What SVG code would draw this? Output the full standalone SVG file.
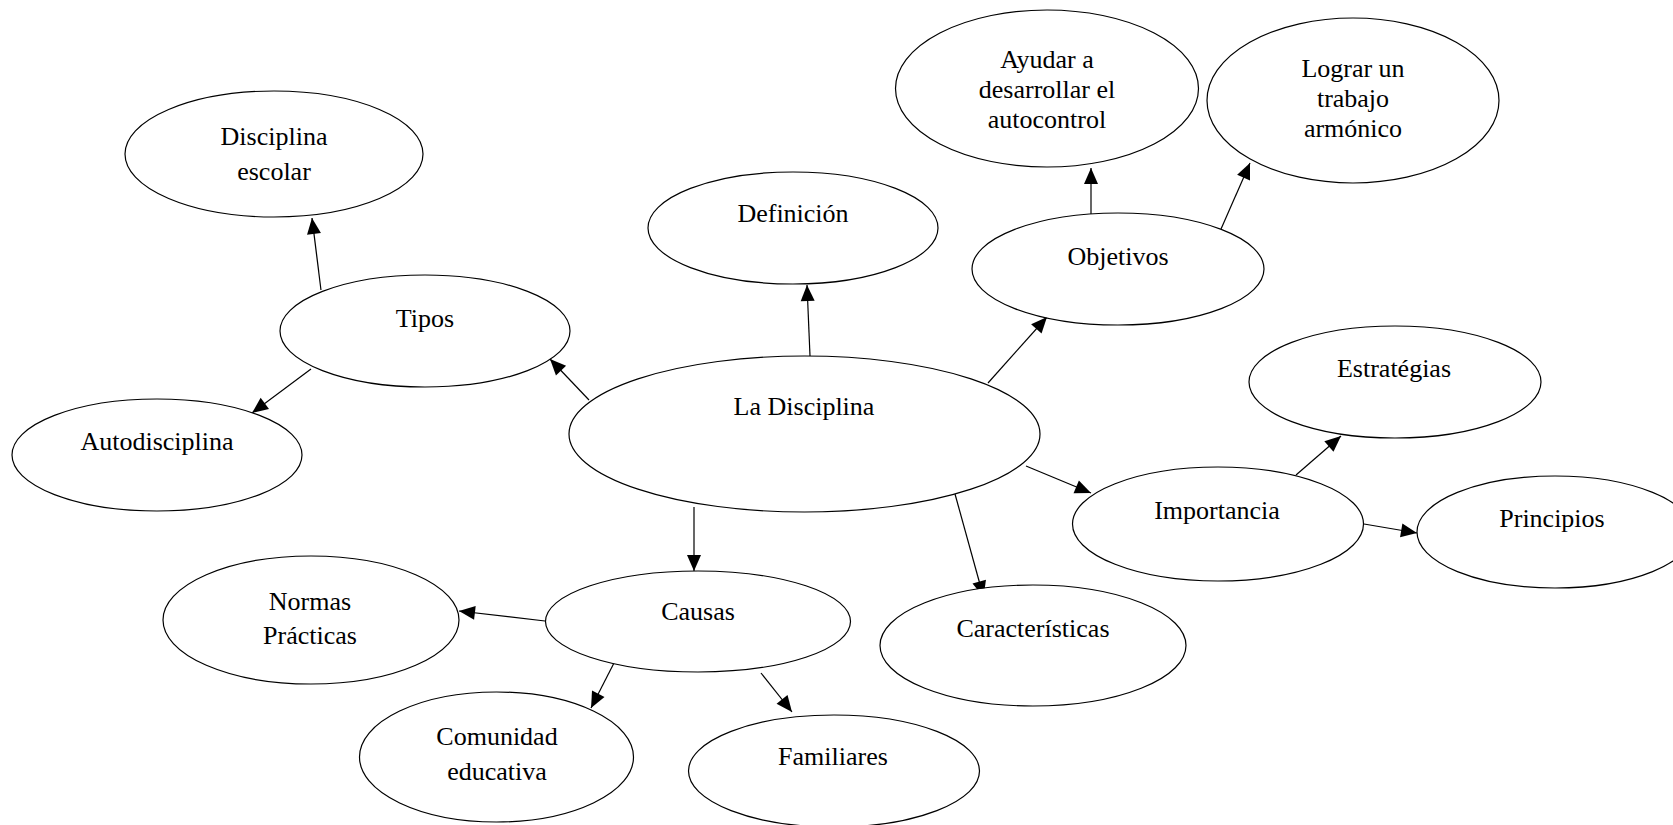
<svg xmlns="http://www.w3.org/2000/svg" width="1673" height="825" viewBox="0 0 1673 825">
<style>
.n ellipse{fill:#fff;stroke:#000;stroke-width:1.2}
.n text{font-family:"Liberation Serif","Times New Roman",serif;font-size:26px;fill:#000;text-anchor:middle}
.e line{stroke:#000;stroke-width:1.2;marker-end:url(#ah)}
</style>
<defs>
<marker id="ah" markerUnits="userSpaceOnUse" markerWidth="17" markerHeight="15" refX="16" refY="7" orient="auto" overflow="visible">
<path d="M0,0 L16,7 L0,14 Z" fill="#000"/>
</marker>
</defs>
<rect width="1673" height="825" fill="#fff"/>
<g id="edges" class="e">
<line x1="589" y1="400" x2="550" y2="359"/>
<line x1="321" y1="290" x2="312" y2="218"/>
<line x1="311" y1="369" x2="252" y2="413"/>
<line x1="810" y1="356" x2="807" y2="285"/>
<line x1="988" y1="383" x2="1047" y2="317"/>
<line x1="1091" y1="217" x2="1091" y2="168"/>
<line x1="1221" y1="229" x2="1250" y2="163"/>
<line x1="1026" y1="466" x2="1091" y2="493"/>
<line x1="1296" y1="475" x2="1341" y2="436"/>
<line x1="1364" y1="524" x2="1417" y2="533"/>
<line x1="694" y1="507" x2="694" y2="571"/>
<line x1="955" y1="494" x2="983.5" y2="597"/>
<line x1="545" y1="621" x2="459" y2="611"/>
<line x1="614" y1="663" x2="591" y2="708"/>
<line x1="761" y1="673" x2="792" y2="712"/>
</g>
<g id="n-disciplina-escolar" class="n"><ellipse cx="274" cy="154" rx="149" ry="63"/><text x="274" y="145">Disciplina</text><text x="274" y="180">escolar</text></g>
<g id="n-tipos" class="n"><ellipse cx="425" cy="331" rx="145" ry="56"/><text x="425" y="327">Tipos</text></g>
<g id="n-autodisciplina" class="n"><ellipse cx="157" cy="455" rx="145" ry="56"/><text x="157" y="450">Autodisciplina</text></g>
<g id="n-definicion" class="n"><ellipse cx="793" cy="228" rx="145" ry="56"/><text x="793" y="222">Definición</text></g>
<g id="n-la-disciplina" class="n"><ellipse cx="804.5" cy="434" rx="235.5" ry="78"/><text x="804" y="415">La Disciplina</text></g>
<g id="n-objetivos" class="n"><ellipse cx="1118" cy="269" rx="146" ry="56"/><text x="1118" y="265">Objetivos</text></g>
<g id="n-ayudar" class="n"><ellipse cx="1047" cy="88.5" rx="151.5" ry="78.5"/><text x="1047" y="68">Ayudar a</text><text x="1047" y="98">desarrollar el</text><text x="1047" y="128">autocontrol</text></g>
<g id="n-lograr" class="n"><ellipse cx="1353" cy="100.5" rx="146" ry="82.5"/><text x="1353" y="77">Lograr un</text><text x="1353" y="107">trabajo</text><text x="1353" y="137">armónico</text></g>
<g id="n-estrategias" class="n"><ellipse cx="1395" cy="382" rx="146" ry="56"/><text x="1394" y="377">Estratégias</text></g>
<g id="n-importancia" class="n"><ellipse cx="1218" cy="524" rx="145.5" ry="57"/><text x="1217" y="519">Importancia</text></g>
<g id="n-principios" class="n"><ellipse cx="1555" cy="532" rx="138" ry="56"/><text x="1552" y="527">Principios</text></g>
<g id="n-causas" class="n"><ellipse cx="698" cy="621.5" rx="152.5" ry="50.5"/><text x="698" y="620">Causas</text></g>
<g id="n-normas" class="n"><ellipse cx="311" cy="620" rx="148" ry="64"/><text x="310" y="610">Normas</text><text x="310" y="644">Prácticas</text></g>
<g id="n-comunidad" class="n"><ellipse cx="496.5" cy="757" rx="137" ry="65"/><text x="497" y="745">Comunidad</text><text x="497" y="780">educativa</text></g>
<g id="n-familiares" class="n"><ellipse cx="834" cy="771" rx="145.5" ry="56"/><text x="833" y="765">Familiares</text></g>
<g id="n-caracteristicas" class="n"><ellipse cx="1033" cy="645.5" rx="153" ry="60.5"/><text x="1033" y="637">Características</text></g>
</svg>
